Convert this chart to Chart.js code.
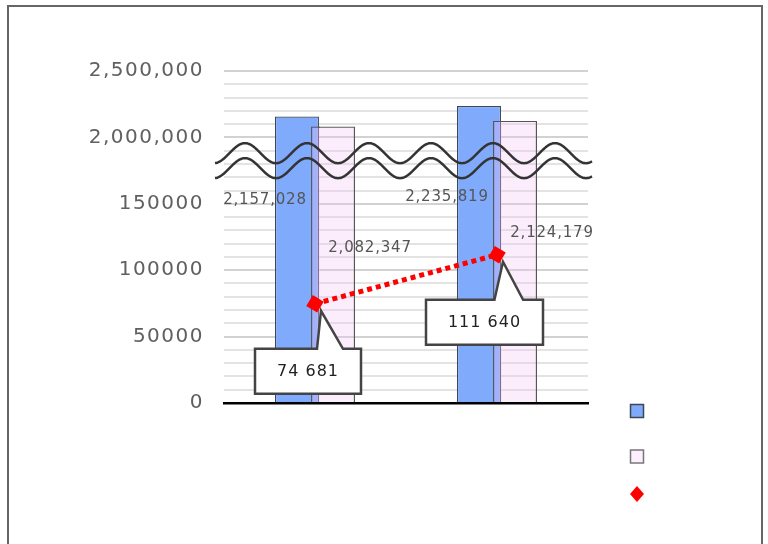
<!DOCTYPE html>
<html>
<head>
<meta charset="utf-8">
<script src="https://cdn.jsdelivr.net/npm/chart.js@4/dist/chart.umd.min.js"></script>
<style>
  html, body { margin: 0; padding: 0; background: #fff; overflow: hidden; }
  #wrap { position: relative; width: 768px; height: 544px; }
</style>
</head>
<body>
<div id="wrap"><canvas id="c" width="768" height="544"></canvas></div>
<script>
// Categories and series values
const categories = ['', ''];
const seriesA = [2157028, 2235819];   // blue bars
const seriesB = [2082347, 2124179];   // pink bars
const seriesLine = [74681, 111640];   // red dotted line
const lowTicks = [0, 50000, 100000, 150000];
const highTicks = [2000000, 2500000];

// Broken value axis: 0..150000 on the lower part, 2,000,000..2,500,000 on the upper part,
// with one tick interval of empty space between them.
const BREAK_LOW = 150000;
const BREAK_HIGH = 2000000;
const GAP = 50000;
const HIGH_RATIO = 10;
function toAxis(v) {
  return v <= BREAK_LOW ? v : BREAK_LOW + GAP + (v - BREAK_HIGH) / HIGH_RATIO;
}
function fromAxis(d) {
  return d <= BREAK_LOW ? d : BREAK_HIGH + (d - BREAK_LOW - GAP) * HIGH_RATIO;
}
const groupDigits = (v, sep) => String(v).replace(/\B(?=(\d{3})+(?!\d))/g, sep);

const FONT = '"DejaVu Sans", Verdana, sans-serif';
const BLUE = 0, PINK = 1, LINE = 2;

// Outer frame and white background
const framePlugin = {
  id: 'frame',
  beforeDraw(chart) {
    const ctx = chart.ctx;
    ctx.save();
    ctx.fillStyle = '#fff';
    ctx.fillRect(0, 0, chart.width, chart.height);
    ctx.strokeStyle = '#666';
    ctx.lineWidth = 2;
    ctx.strokeRect(8, 6, 754, 620);
    ctx.restore();
    // wider spacing for axis tick text
    ctx.letterSpacing = '1.5px';
  },
  beforeDatasetsDraw(chart) {
    chart.ctx.letterSpacing = '0px';
  }
};

// The translucent pink bars sit over the edge of the blue ones
const overlapPlugin = {
  id: 'overlap',
  afterDatasetDraw(chart, args) {
    if (args.index !== BLUE) return;
    const ctx = chart.ctx;
    const blue = chart.getDatasetMeta(BLUE).data;
    const pink = chart.getDatasetMeta(PINK).data;
    blue.forEach((b, i) => {
      const p = b.getProps(['x', 'y', 'base', 'width']);
      ctx.save();
      ctx.beginPath();
      ctx.rect(p.x - p.width / 2 - 1, Math.min(p.y, p.base) - 1, p.width + 2, Math.abs(p.base - p.y) + 2);
      ctx.clip();
      pink[i].draw(ctx, chart.chartArea);
      ctx.restore();
    });
  }
};

// Break marks, value labels and callouts
const overlayPlugin = {
  id: 'overlay',
  afterDatasetsDraw(chart) {
    const ctx = chart.ctx;
    const area = chart.chartArea;
    const y = chart.scales.y;

    // two wavy break lines
    const center = y.getPixelForValue(BREAK_LOW + GAP * 0.65);
    const period = 62, amp = 10;
    const x0 = area.left - 9, x1 = area.right + 4, crest = area.left + 21;
    ctx.save();
    ctx.strokeStyle = '#333';
    ctx.lineWidth = 2.5;
    [-7.5, 7.5].forEach(off => {
      ctx.beginPath();
      for (let x = x0; x <= x1; x += 1) {
        const yy = center + off - amp * Math.cos(2 * Math.PI * (x - crest) / period);
        if (x === x0) ctx.moveTo(x, yy); else ctx.lineTo(x, yy);
      }
      ctx.stroke();
    });
    ctx.restore();

    // bar value labels
    const labelOffsets = [
      [[-32, 84], [-32, 91]],
      [[37, 122], [37, 112]]
    ];
    ctx.save();
    ctx.font = '15px ' + FONT;
    ctx.letterSpacing = '0.8px';
    ctx.fillStyle = '#555';
    ctx.textAlign = 'center';
    ctx.textBaseline = 'middle';
    [BLUE, PINK].forEach(di => {
      const meta = chart.getDatasetMeta(di);
      const values = chart.data.datasets[di].rawValues;
      meta.data.forEach((bar, i) => {
        const [dx, dy] = labelOffsets[di][i];
        ctx.fillText(groupDigits(values[i], ','), bar.x + dx, bar.y + dy);
      });
    });
    ctx.restore();

    // callouts for the line points
    const lineMeta = chart.getDatasetMeta(LINE);
    const shifts = [-7, -12.5];
    ctx.save();
    ctx.font = '16px ' + FONT;
    ctx.letterSpacing = '1px';
    lineMeta.data.forEach((pt, i) => {
      const text = groupDigits(seriesLine[i], ' ');
      const w = Math.round(ctx.measureText(text).width + 44);
      const h = 45;
      const left = pt.x + shifts[i] - w / 2;
      const top = pt.y + 45;
      ctx.beginPath();
      ctx.moveTo(left, top);
      ctx.lineTo(left + 0.585 * w, top);
      ctx.lineTo(pt.x + 6, pt.y + 7);
      ctx.lineTo(left + 0.83 * w, top);
      ctx.lineTo(left + w, top);
      ctx.lineTo(left + w, top + h);
      ctx.lineTo(left, top + h);
      ctx.closePath();
      ctx.fillStyle = '#fff';
      ctx.fill();
      ctx.strokeStyle = '#444';
      ctx.lineWidth = 2.5;
      ctx.lineJoin = 'miter';
      ctx.stroke();
      ctx.fillStyle = '#222';
      ctx.textAlign = 'center';
      ctx.textBaseline = 'middle';
      ctx.fillText(text, left + w / 2, top + h / 2 + 1);
    });
    ctx.restore();
  },
  afterDraw(chart) {
    // legend markers (series carry no names)
    const ctx = chart.ctx;
    const area = chart.chartArea;
    const ds = chart.data.datasets;
    const cx = area.right + 49;
    ctx.save();
    [[8, BLUE], [53.5, PINK]].forEach(([dy, di]) => {
      const cy = area.bottom + dy;
      ctx.fillStyle = ds[di].legendFill;
      ctx.fillRect(cx - 6.5, cy - 6.5, 13, 13);
      ctx.strokeStyle = ds[di].legendBorder;
      ctx.lineWidth = 1.5;
      ctx.strokeRect(cx - 6.5, cy - 6.5, 13, 13);
    });
    const cy = area.bottom + 91;
    ctx.beginPath();
    ctx.moveTo(cx, cy - 8);
    ctx.lineTo(cx + 7, cy);
    ctx.lineTo(cx, cy + 8);
    ctx.lineTo(cx - 7, cy);
    ctx.closePath();
    ctx.fillStyle = ds[LINE].pointBackgroundColor;
    ctx.fill();
    ctx.restore();
  }
};

new Chart(document.getElementById('c'), {
  data: {
    labels: categories,
    datasets: [
      {
        type: 'bar',
        label: '',
        data: seriesA.map(toAxis),
        rawValues: seriesA,
        backgroundColor: '#80aafc',
        borderColor: '#3d4656',
        legendFill: '#80aafc',
        legendBorder: '#3d4656',
        borderWidth: 1.2,
        categoryPercentage: 0.396,
        barPercentage: 1.22,
        order: 1
      },
      {
        type: 'bar',
        label: '',
        data: seriesB.map(toAxis),
        rawValues: seriesB,
        backgroundColor: 'rgba(245, 196, 250, 0.3)',
        borderColor: '#555',
        legendFill: '#fdeffd',
        legendBorder: '#777',
        borderWidth: 1.2,
        categoryPercentage: 0.396,
        barPercentage: 1.22,
        order: 2
      },
      {
        type: 'line',
        label: '',
        data: seriesLine.map(toAxis),
        borderColor: '#ff0000',
        borderWidth: 5,
        borderDash: [5, 4],
        borderCapStyle: 'butt',
        fill: false,
        tension: 0,
        pointStyle: 'rect',
        pointRotation: 31,
        pointRadius: 9,
        pointHoverRadius: 9,
        pointBackgroundColor: '#ff0000',
        pointBorderWidth: 0,
        order: 0
      }
    ]
  },
  options: {
    responsive: false,
    animation: false,
    events: [],
    layout: { padding: { top: 71, right: 180, left: 0, bottom: 0 } },
    plugins: {
      legend: { display: false },
      tooltip: { enabled: false }
    },
    scales: {
      x: {
        grid: { display: false },
        ticks: { display: false },
        border: { display: true, color: '#000', width: 2.5 },
        afterFit(scale) { scale.height = 141; }
      },
      y: {
        min: 0,
        max: 250000,
        border: { display: false },
        grid: {
          drawTicks: false,
          lineWidth: 2,
          color(c) {
            const v = c.tick ? c.tick.value : 1;
            if (v === 0) return 'rgba(0,0,0,0)';
            return v % 50000 === 0 ? '#d2d2d2' : '#e3e3e3';
          }
        },
        ticks: {
          stepSize: 10000,
          autoSkip: false,
          padding: 20,
          color: '#606060',
          font: { family: FONT, size: 20 },
          callback(value) {
            if (lowTicks.includes(value)) return String(value);
            const real = fromAxis(value);
            if (highTicks.includes(real)) return groupDigits(real, ',');
            return '';
          }
        },
        afterFit(scale) { scale.width = 224; }
      }
    }
  },
  plugins: [framePlugin, overlapPlugin, overlayPlugin]
});
</script>
</body>
</html>
